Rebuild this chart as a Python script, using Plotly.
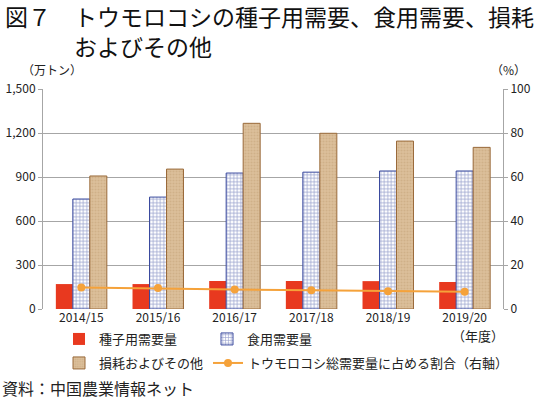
import plotly.graph_objects as go

years = ["2014/15", "2015/16", "2016/17", "2017/18", "2018/19", "2019/20"]
seed = [170, 170, 191, 191, 190, 184]
food = [750, 763, 927, 933, 941, 941]
loss = [907, 954, 1266, 1198, 1145, 1102]
share = [9.8, 9.5, 8.9, 8.5, 8.1, 7.8]

y_ticks = [0, 300, 600, 900, 1200, 1500]
y_ticktext = ["0", "300", "600", "900", "1,200", "1,500"]
y2_ticks = [0, 20, 40, 60, 80, 100]

FONT = "Noto Sans CJK JP"
L, R, T, B = 43, 44, 89, 90
W, H = 547, 399
PW, PH = W - L - R, H - T - B

def px(x):
    return (x - L) / PW

def py(y):
    return (H - B - y) / PH

fig = go.Figure()
fig.add_trace(go.Bar(
    x=years, y=seed, name="種子用需要量", legend="legend",
    marker=dict(color="#E8391F", line=dict(width=0)),
))
fig.add_trace(go.Bar(
    x=years, y=food, name="食用需要量", legend="legend",
    marker=dict(color="white", line=dict(color="#3A4A9E", width=1),
                pattern=dict(shape="+", fgcolor="#3A4A9E", bgcolor="white",
                             size=3.5, solidity=0.4)),
))
fig.add_trace(go.Bar(
    x=years, y=loss, name="損耗およびその他", legend="legend2",
    marker=dict(color="#D6B88F", line=dict(color="#9A6A3A", width=1),
                pattern=dict(shape=".", fgcolor="#C4A075", bgcolor="#DCC09B",
                             size=3, solidity=0.4)),
))
fig.add_trace(go.Scatter(
    x=years, y=share, name="トウモロコシ総需要量に占める割合（右軸）",
    legend="legend3", yaxis="y2", mode="lines+markers",
    line=dict(color="#F5A23A", width=2),
    marker=dict(color="#F5A23A", size=8),
))

leg_common = dict(orientation="h", yanchor="middle", xanchor="left",
                  font=dict(size=13), bgcolor="rgba(0,0,0,0)", itemwidth=30)

fig.update_layout(
    width=W, height=H,
    margin=dict(l=L, r=R, t=T, b=B, autoexpand=False),
    paper_bgcolor="white", plot_bgcolor="white",
    font=dict(family=FONT, size=12, color="#222"),
    barmode="group", bargap=0.335, bargroupgap=0,
    xaxis=dict(showgrid=False, ticks="", tickfont=dict(size=12),
               showline=False),
    yaxis=dict(range=[0, 1500], tickvals=y_ticks, ticktext=y_ticktext,
               showgrid=True, gridcolor="#A6A6A6", gridwidth=1,
               showline=True, linecolor="#A6A6A6", linewidth=1,
               ticks="outside", ticklen=4, tickcolor="#A6A6A6",
               zeroline=False, tickfont=dict(size=12)),
    yaxis2=dict(range=[0, 100], tickvals=y2_ticks, overlaying="y",
                side="right", showgrid=False,
                showline=True, linecolor="#A6A6A6", linewidth=1,
                ticks="outside", ticklen=4, tickcolor="#A6A6A6",
                zeroline=False, tickfont=dict(size=12)),
    legend=dict(x=px(59), y=py(339), entrywidth=103, **leg_common),
    legend2=dict(x=px(59), y=py(363), **leg_common),
    legend3=dict(x=px(208), y=py(363), **leg_common),
    showlegend=True,
)

ann = [
    dict(text="図７　トウモロコシの種子用需要、食用需要、損耗<br>　　　およびその他",
         x=px(3), y=py(31), align="left",
         xanchor="left", yanchor="middle", font=dict(size=23, color="#111")),
    dict(text="（万トン）", x=px(52), y=py(80), xanchor="center", yanchor="bottom",
         font=dict(size=12)),
    dict(text="（%）", x=px(509), y=py(80), xanchor="center", yanchor="bottom",
         font=dict(size=12)),
    dict(text="（年度）", x=px(478), y=py(335), xanchor="center", yanchor="middle",
         font=dict(size=13)),
    dict(text="資料：中国農業情報ネット", x=px(0), y=py(388), xanchor="left",
         yanchor="middle", font=dict(size=16)),
]
for a in ann:
    a.update(xref="paper", yref="paper", showarrow=False)
fig.update_layout(annotations=ann)

fig.write_html(
    "out.html",
    config={"displayModeBar": False},
    post_script="document.body.style.margin='0';document.body.style.padding='0';",
)
